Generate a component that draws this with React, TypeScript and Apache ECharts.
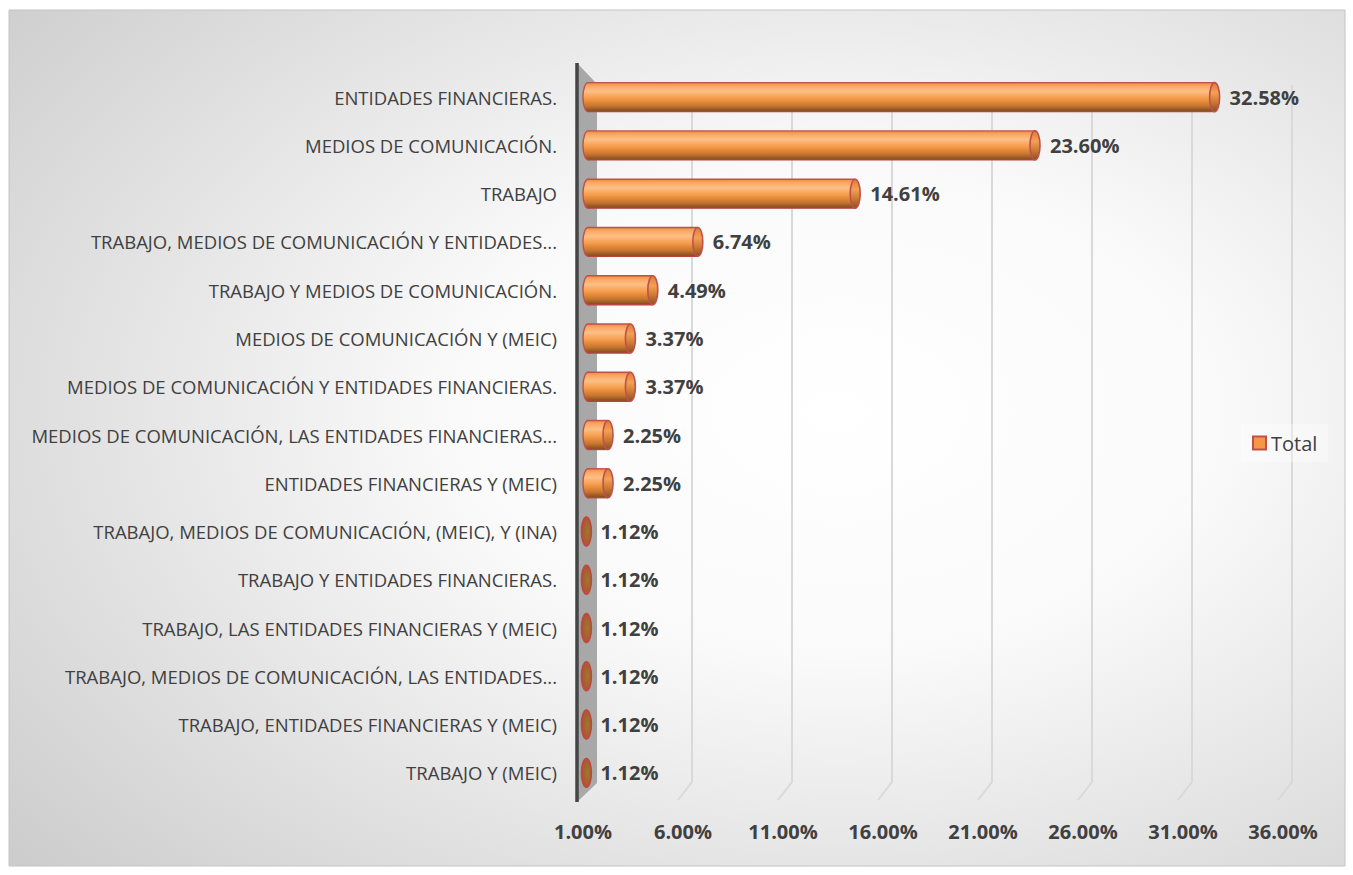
import React, { useEffect, useRef } from 'react';
import * as echarts from 'echarts';

const categories: string[] = [
  'ENTIDADES FINANCIERAS.',
  'MEDIOS DE COMUNICACIÓN.',
  'TRABAJO',
  'TRABAJO, MEDIOS DE COMUNICACIÓN Y ENTIDADES...',
  'TRABAJO Y MEDIOS DE COMUNICACIÓN.',
  'MEDIOS DE COMUNICACIÓN Y (MEIC)',
  'MEDIOS DE COMUNICACIÓN Y ENTIDADES FINANCIERAS.',
  'MEDIOS DE COMUNICACIÓN, LAS ENTIDADES FINANCIERAS...',
  'ENTIDADES FINANCIERAS Y (MEIC)',
  'TRABAJO, MEDIOS DE COMUNICACIÓN, (MEIC), Y (INA)',
  'TRABAJO Y ENTIDADES FINANCIERAS.',
  'TRABAJO, LAS ENTIDADES FINANCIERAS Y (MEIC)',
  'TRABAJO, MEDIOS DE COMUNICACIÓN, LAS ENTIDADES...',
  'TRABAJO, ENTIDADES FINANCIERAS Y (MEIC)',
  'TRABAJO Y (MEIC)',
];

const values: number[] = [32.58, 23.6, 14.61, 6.74, 4.49, 3.37, 3.37, 2.25, 2.25, 1.12, 1.12, 1.12, 1.12, 1.12, 1.12];

const axisMin = 1;
const axisMax = 36;
const axisStep = 5;
const seriesName = 'Total';

const FONT = '"Open Sans", "Noto Sans", sans-serif';
const GRID_LEFT = 583;
const GRID_TOP = 73;
const GRID_BOTTOM = 78;
const GRID_RIGHT = 70;

export default function App() {
  const ref = useRef<HTMLDivElement>(null);

  useEffect(() => {
    document.body.style.margin = '0';
    const chart = echarts.init(ref.current!, null, { renderer: 'svg' });

    const bodyGradient = () =>
      new echarts.graphic.LinearGradient(0, 0, 0, 1, [
        { offset: 0, color: '#ea8c3e' },
        { offset: 0.12, color: '#faa863' },
        { offset: 0.3, color: '#fdbf86' },
        { offset: 0.55, color: '#f59b48' },
        { offset: 0.8, color: '#c9752f' },
        { offset: 1, color: '#7c4a1e' },
      ]);

    const wallX = GRID_LEFT - 6;
    const plotBottom = 875 - GRID_BOTTOM;

    const baseGraphics: any[] = [
      {
        type: 'rect',
        z: -100,
        silent: true,
        shape: { x: 9, y: 10, width: 1336, height: 856 },
        style: {
          fill: new echarts.graphic.RadialGradient(0.62, 0.47, 0.95, [
            { offset: 0, color: '#ffffff' },
            { offset: 0.3, color: '#fafafa' },
            { offset: 1, color: '#c0c0c0' },
          ]),
          stroke: '#c4c4c4',
          lineWidth: 1,
        },
      },
      {
        type: 'polygon',
        z: 1,
        silent: true,
        shape: {
          points: [
            [wallX, GRID_TOP - 10],
            [wallX + 20, GRID_TOP + 11],
            [wallX + 20, plotBottom - 14],
            [wallX, plotBottom + 5],
          ],
        },
        style: { fill: '#a8a8a8' },
      },
      {
        type: 'line',
        z: 1,
        silent: true,
        shape: { x1: wallX, y1: GRID_TOP - 10, x2: wallX, y2: plotBottom + 5 },
        style: { stroke: '#454545', lineWidth: 3.5 },
      },
    ];

    const option: any = {
      animation: false,
      backgroundColor: '#ffffff',
      textStyle: { fontFamily: FONT },
      graphic: baseGraphics,
      legend: {
        data: [{ name: seriesName, icon: 'rect' }],
        left: 1241,
        top: 424,
        orient: 'vertical',
        backgroundColor: 'rgba(255,255,255,0.35)',
        padding: [9, 11, 9, 11],
        itemWidth: 13,
        itemHeight: 13,
        itemGap: 6,
        itemStyle: { color: '#f79646', borderColor: '#c0504d', borderWidth: 2 },
        textStyle: { fontSize: 20, color: '#404040', fontFamily: FONT },
      },
      grid: { left: GRID_LEFT, right: GRID_RIGHT, top: GRID_TOP, bottom: GRID_BOTTOM, containLabel: false },
      xAxis: {
        type: 'value',
        min: axisMin,
        max: axisMax,
        interval: axisStep,
        axisLine: { show: false },
        axisTick: { show: false },
        splitLine: { show: false },
        axisLabel: {
          margin: 24,
          fontSize: 20,
          fontWeight: 'bold',
          color: '#404040',
          fontFamily: FONT,
          formatter: (v: number) => v.toFixed(2) + '%',
        },
      },
      yAxis: {
        type: 'category',
        inverse: true,
        data: categories,
        axisLine: { show: false },
        axisTick: { show: false },
        splitLine: { show: false },
        axisLabel: { margin: 26, fontSize: 18.5, color: '#404040', fontFamily: FONT },
      },
      series: [
        {
          name: seriesName,
          type: 'custom',
          z: 3,
          itemStyle: { color: '#f79646', borderColor: '#c0504d', borderWidth: 2 },
          encode: { x: 0, y: 1 },
          data: values.map((v, i) => [v, i]),
          renderItem: (params: any, api: any) => {
            const v = api.value(0);
            const idx = api.value(1);
            const start = api.coord([axisMin, idx]);
            const end = api.coord([v, idx]);
            const h = api.size([0, 1])[1] * 0.6;
            const yc = end[1];
            const x0 = start[0] + 3;
            const x1 = end[0];
            const rx = 5;
            const small = x1 - x0 < 6;
            const children: any[] = [];
            if (!small) {
              children.push({
                type: 'ellipse',
                shape: { cx: x0 + 2, cy: yc, rx, ry: h / 2 },
                style: { fill: bodyGradient(), stroke: '#c0504d', lineWidth: 1.4 },
              });
              children.push({
                type: 'rect',
                shape: { x: x0 + 2, y: yc - h / 2, width: x1 - x0 - 2, height: h },
                style: { fill: bodyGradient() },
              });
              children.push({
                type: 'line',
                shape: { x1: x0 + 2, y1: yc - h / 2, x2: x1, y2: yc - h / 2 },
                style: { stroke: '#c0504d', lineWidth: 1.4 },
              });
              children.push({
                type: 'line',
                shape: { x1: x0 + 2, y1: yc + h / 2, x2: x1, y2: yc + h / 2 },
                style: { stroke: '#b5463f', lineWidth: 1.4 },
              });
              children.push({
                type: 'ellipse',
                shape: { cx: x1, cy: yc, rx, ry: h / 2 },
                style: {
                  fill: new echarts.graphic.LinearGradient(0, 0, 0, 1, [
                    { offset: 0, color: '#e07a38' },
                    { offset: 0.35, color: '#f4a055' },
                    { offset: 0.7, color: '#c87530' },
                    { offset: 1, color: '#8a4f20' },
                  ]),
                  stroke: '#c0504d',
                  lineWidth: 1.6,
                },
              });
            } else {
              children.push({
                type: 'ellipse',
                shape: { cx: x1 + 1, cy: yc, rx, ry: h / 2 },
                style: {
                  fill: new echarts.graphic.RadialGradient(0.6, 0.5, 0.6, [
                    { offset: 0, color: '#9c7a2e' },
                    { offset: 0.55, color: '#a4632f' },
                    { offset: 1, color: '#c0463f' },
                  ]),
                  stroke: '#c0463f',
                  lineWidth: 1.5,
                },
              });
            }
            children.push({
              type: 'text',
              x: x1 + rx + 10,
              y: yc,
              style: {
                text: v.toFixed(2) + '%',
                fill: '#404040',
                font: 'bold 20px ' + FONT,
                textAlign: 'left',
                textVerticalAlign: 'middle',
                align: 'left',
                verticalAlign: 'middle',
              },
            });
            return { type: 'group', children };
          },
        },
      ],
    };

    chart.setOption(option);

    // 3D-style grid lines positioned through the axis scale
    const gridLines: any[] = [];
    for (let t = axisMin + axisStep; t <= axisMax; t += axisStep) {
      const px = chart.convertToPixel({ xAxisIndex: 0 }, t) as number;
      gridLines.push({
        type: 'polyline',
        z: 0,
        silent: true,
        shape: {
          points: [
            [px + 9, GRID_TOP + 12],
            [px + 9, plotBottom - 15],
            [px - 5, plotBottom + 3],
          ],
        },
        style: { stroke: '#d9d9d9', lineWidth: 2, fill: 'none' },
      });
    }
    chart.setOption({ graphic: [...baseGraphics, ...gridLines] });

    return () => chart.dispose();
  }, []);

  return <div ref={ref} style={{ width: 1353, height: 875 }} />;
}
